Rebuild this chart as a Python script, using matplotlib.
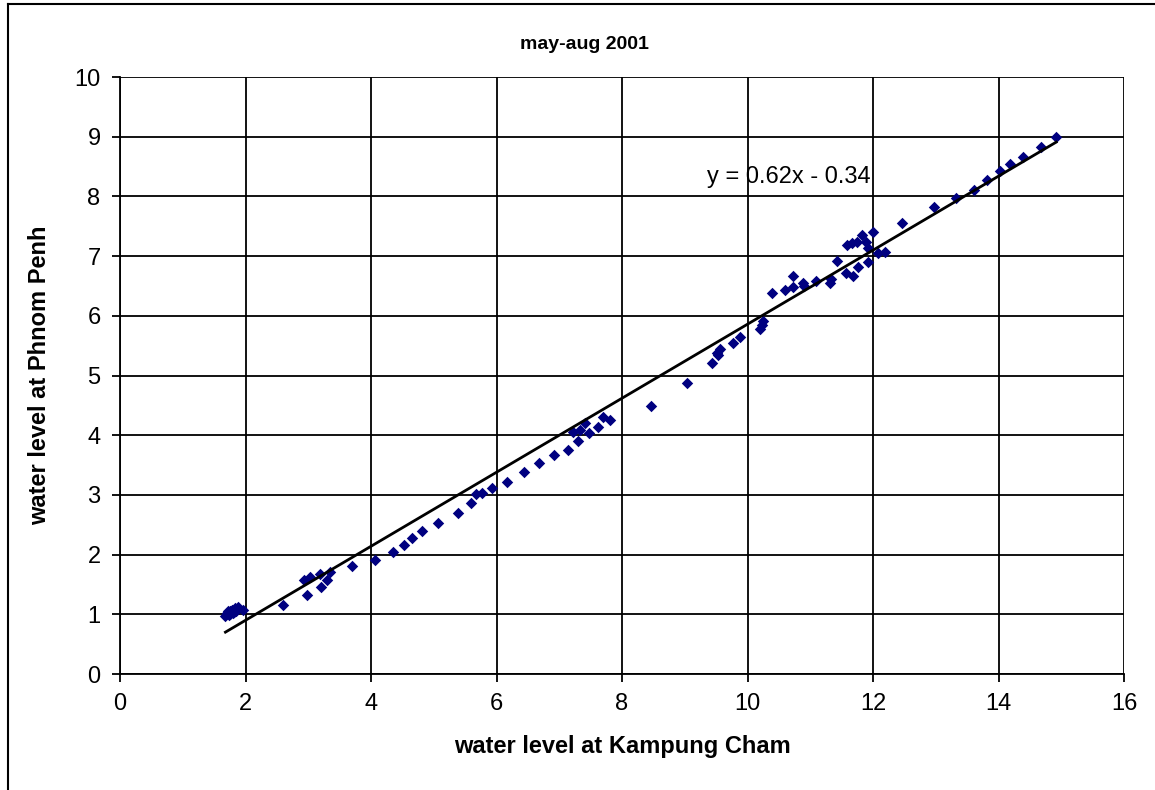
import numpy as np
import matplotlib.pyplot as plt
from matplotlib.lines import Line2D

plt.rcParams['font.family'] = ['Liberation Sans', 'DejaVu Sans']

# water levels (m)
kampung_cham = [1.68, 1.70, 1.72, 1.73, 1.75, 1.76, 1.78, 1.80, 1.82, 1.83, 1.85, 1.88, 1.96,
                2.60, 2.93, 2.98, 3.03, 3.19, 3.20, 3.30, 3.35, 3.70, 4.06, 4.35, 4.53, 4.65,
                4.81, 5.07, 5.39, 5.59, 5.67, 5.77, 5.93, 6.17, 6.44, 6.68, 6.92, 7.14, 7.22,
                7.30, 7.33, 7.41, 7.47, 7.62, 7.70, 7.81, 8.46, 9.04, 9.43, 9.51, 9.53, 9.56,
                9.77, 9.88, 10.20, 10.23, 10.25, 10.39, 10.60, 10.72, 10.72, 10.89, 10.90,
                11.09, 11.31, 11.33, 11.43, 11.57, 11.59, 11.67, 11.68, 11.74, 11.76, 11.82,
                11.89, 11.92, 11.92, 12.00, 12.08, 12.19, 12.46, 12.97, 13.32, 13.61, 13.81,
                14.02, 14.18, 14.39, 14.68, 14.92]
phnom_penh = [0.97, 1.02, 1.05, 0.99, 1.00, 1.06, 1.08, 1.03, 1.04, 1.10, 1.06, 1.12, 1.07,
              1.16, 1.57, 1.32, 1.62, 1.67, 1.46, 1.57, 1.71, 1.81, 1.91, 2.04, 2.16, 2.28,
              2.40, 2.53, 2.70, 2.86, 3.01, 3.03, 3.12, 3.22, 3.38, 3.53, 3.67, 3.75, 4.05,
              3.90, 4.08, 4.20, 4.04, 4.13, 4.31, 4.25, 4.49, 4.87, 5.21, 5.37, 5.34, 5.44,
              5.54, 5.64, 5.78, 5.85, 5.91, 6.38, 6.43, 6.48, 6.67, 6.55, 6.50,
              6.58, 6.55, 6.62, 6.92, 6.72, 7.19, 7.22, 6.67, 7.24, 6.82, 7.35,
              7.24, 7.13, 6.90, 7.40, 7.05, 7.07, 7.55, 7.82, 7.97, 8.11, 8.27,
              8.43, 8.54, 8.66, 8.83, 9.00]
slope, intercept = 0.62, -0.34

fig = plt.figure(figsize=(11.55, 7.9), dpi=100)
ax = fig.add_axes([0.1039, 0.1468, 0.8693, 0.7557])

ax.scatter(kampung_cham, phnom_penh, marker='D', s=34, color='#000080', zorder=3, linewidths=0)
xs = np.array([min(kampung_cham), max(kampung_cham)])
ax.plot(xs, slope * xs + intercept, color='black', lw=2, zorder=4)
ax.text(9.35, 8.32, 'y = 0.62x - 0.34', fontsize=17, va='center', ha='left', zorder=5)

ax.set_xlim(0, 16)
ax.set_ylim(0, 10)
ax.set_xticks(range(0, 17, 2))
ax.set_yticks(range(0, 11))
ax.grid(True, color='black', lw=1.3)
ax.set_axisbelow(True)
for s in ax.spines.values():
    s.set_visible(False)
ax.spines['left'].set_visible(True)
ax.spines['bottom'].set_visible(True)
ax.spines['left'].set_linewidth(1.3)
ax.spines['bottom'].set_linewidth(1.3)
ax.tick_params(direction='out', length=6, width=1.3, labelsize=17, pad=8)

ax.set_xlabel('water level at Kampung Cham', fontsize=17, fontweight='bold', labelpad=14)
ax.set_ylabel('water level at Phnom Penh', fontsize=17, fontweight='bold', labelpad=17)
# title is centred on the whole chart, not on the plot area
fig.text(0.506, 0.944, 'may-aug 2001', fontsize=14, fontweight='bold', ha='center', va='center')

# outer chart frame (top and left edges visible)
fig.add_artist(Line2D([0.007, 1.0], [0.995, 0.995], color='black', lw=1.5, transform=fig.transFigure))
fig.add_artist(Line2D([0.007, 0.007], [0.0, 0.995], color='black', lw=1.5, transform=fig.transFigure))

fig.savefig('out.png', dpi=100)
